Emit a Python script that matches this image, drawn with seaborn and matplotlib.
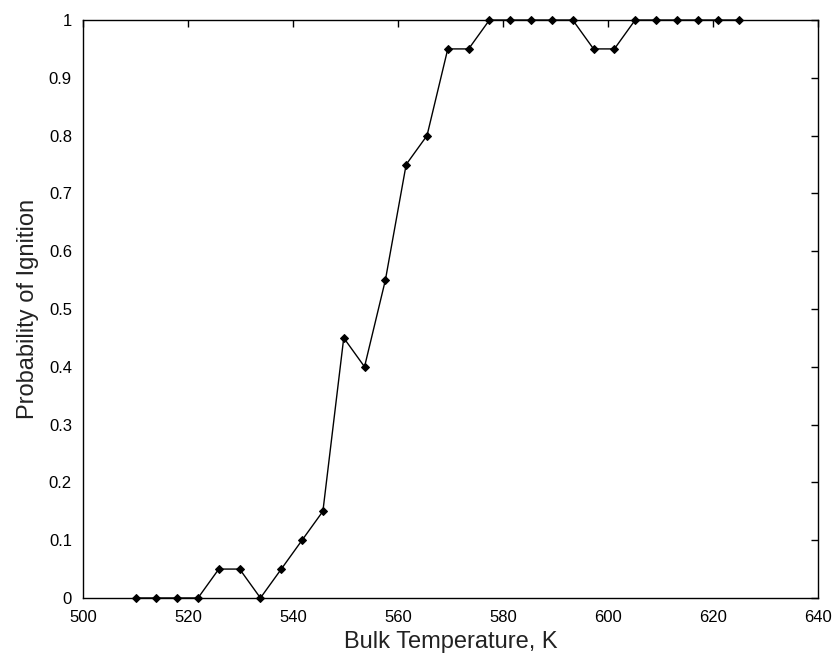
import matplotlib
matplotlib.use("Agg")
import matplotlib.pyplot as plt
import seaborn as sns
import pandas as pd

temperature = [510.00, 513.97, 517.93, 521.90, 525.86, 529.83, 533.79, 537.76,
               541.72, 545.69, 549.66, 553.62, 557.59, 561.55, 565.52, 569.48,
               573.45, 577.41, 581.38, 585.34, 589.31, 593.28, 597.24, 601.21,
               605.17, 609.14, 613.10, 617.07, 621.03, 625.00]
probability = [0, 0, 0, 0, 0.05, 0.05, 0, 0.05, 0.10, 0.15, 0.45, 0.40, 0.55,
               0.75, 0.80, 0.95, 0.95, 1, 1, 1, 1, 1, 0.95, 0.95, 1, 1, 1, 1, 1, 1]
xticks = [500, 520, 540, 560, 580, 600, 620, 640]
yticks = [0, 0.1, 0.2, 0.3, 0.4, 0.5, 0.6, 0.7, 0.8, 0.9, 1]
ytick_labels = ["0", "0.1", "0.2", "0.3", "0.4", "0.5", "0.6", "0.7", "0.8", "0.9", "1"]

df = pd.DataFrame({"Bulk Temperature, K": temperature,
                   "Probability of Ignition": probability})

sns.set_style("white")
plt.rcParams["font.family"] = ["Liberation Sans", "DejaVu Sans"]

fig = plt.figure(figsize=(8.32, 6.65), dpi=100)
ax = fig.add_axes([0.0998, 0.1008, 0.9832 - 0.0998, 0.9699 - 0.1008])

sns.lineplot(data=df, x="Bulk Temperature, K", y="Probability of Ignition",
             ax=ax, color="black", linewidth=1.0, marker="D", markersize=4.5,
             markeredgecolor="black", markerfacecolor="black", clip_on=False)

ax.set_xlim(500, 640)
ax.set_ylim(0, 1)
ax.set_xticks(xticks)
ax.set_xticklabels([str(t) for t in xticks])
ax.set_yticks(yticks)
ax.set_yticklabels(ytick_labels)
ax.tick_params(direction="in", length=5, width=1, colors="black",
               labelsize=12, top=True, right=True)
ax.tick_params(axis="x", pad=9)
ax.tick_params(axis="y", pad=8)
for s in ax.spines.values():
    s.set_color("black")
    s.set_linewidth(1.0)
ax.set_xlabel("Bulk Temperature, K", fontsize=17, color="#222222", labelpad=4)
ax.set_ylabel("Probability of Ignition", fontsize=17, color="#222222", labelpad=7)

fig.savefig("out.png", dpi=100, facecolor="white")
